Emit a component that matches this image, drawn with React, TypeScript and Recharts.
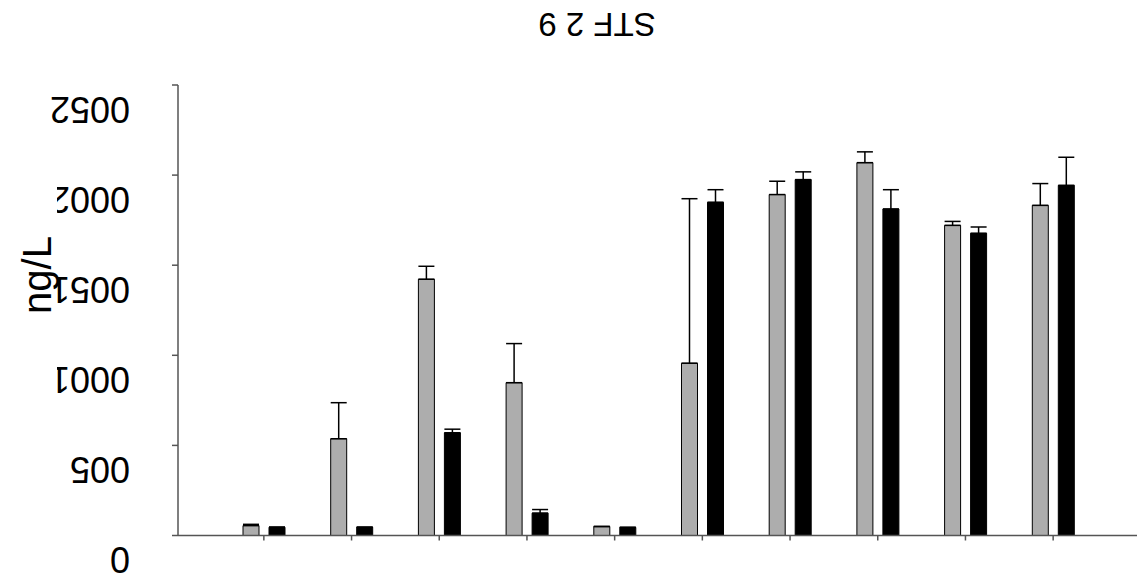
import React from 'react';
import { BarChart, Bar, XAxis, YAxis, ErrorBar } from 'recharts';

const categories = ['1', '2', '3', '4', '5', '6', '7', '8', '9', '10'];
const grayValues = [55, 537, 1422, 848, 50, 956, 1892, 2069, 1721, 1832];
const blackValues = [46, 46, 570, 124, 45, 1849, 1975, 1812, 1677, 1943];
const grayErrors = [7, 200, 72, 217, 0, 913, 74, 60, 22, 121];
const blackErrors = [0, 0, 20, 20, 0, 70, 43, 107, 35, 156];
const yTicks = [0, 500, 1000, 1500, 2000, 2500];
const clippedTicks = [1000, 1500, 2000];
const titleText = 'STF 2 9';
const yLabel = 'ng/L';

const data = categories.map((c, i) => ({
  name: c,
  gray: grayValues[i],
  black: blackValues[i],
  grayErr: [0, grayErrors[i]],
  blackErr: [0, blackErrors[i]],
}));

const FONT = '"Liberation Sans", Arial, sans-serif';
const TICK_FONT = 36;

function YTick(props: any) {
  const { x, y, payload } = props;
  const glyphW = 0.556 * TICK_FONT;
  const ex = x - 40 + glyphW;
  const baseY = y + 11.6;
  const clipped = clippedTicks.includes(payload.value);
  const id = `ytick-clip-${payload.value}`;
  return (
    <g>
      {clipped && (
        <defs>
          <clipPath id={id}>
            <rect x={57} y={y - 10} width={200} height={60} />
          </clipPath>
        </defs>
      )}
      <g clipPath={clipped ? `url(#${id})` : undefined}>
        <text
          x={ex}
          y={baseY}
          textAnchor="end"
          rotate="180"
          fontSize={TICK_FONT}
          fontFamily={FONT}
          fill="#000"
        >
          {payload.value}
        </text>
      </g>
    </g>
  );
}

export default function App() {
  return (
    <div style={{ position: 'absolute', left: 0, top: 0, width: 1137, height: 579, background: '#fff' }}>
      <BarChart
        width={1137}
        height={579}
        data={data}
        margin={{ top: 85, right: 0, left: 0, bottom: 13.5 }}
        barSize={16}
        barGap={10}
      >
        <XAxis
          dataKey="name"
          height={30}
          padding={{ left: 42, right: 40 }}
          tick={() => <g />}
          tickSize={5}
          axisLine={{ stroke: '#555', strokeWidth: 1.5 }}
          tickLine={{ stroke: '#555', strokeWidth: 1.5 }}
        />
        <YAxis
          width={178}
          domain={[0, 2500]}
          ticks={yTicks}
          interval={0}
          tickSize={6}
          tick={<YTick />}
          axisLine={{ stroke: '#555', strokeWidth: 1.5 }}
          tickLine={{ stroke: '#555', strokeWidth: 1.5 }}
        />
        <Bar dataKey="gray" fill="#adadad" stroke="#000" strokeWidth={1} isAnimationActive={false}>
          <ErrorBar dataKey="grayErr" width={8} stroke="#000" strokeWidth={1.5} isAnimationActive={false} />
        </Bar>
        <Bar dataKey="black" fill="#000" stroke="#000" strokeWidth={1} isAnimationActive={false}>
          <ErrorBar dataKey="blackErr" width={8} stroke="#000" strokeWidth={1.5} isAnimationActive={false} />
        </Bar>
      </BarChart>
      <div
        style={{
          position: 'absolute',
          left: 447,
          top: 5,
          width: 300,
          height: 38,
          lineHeight: '38px',
          textAlign: 'center',
          fontSize: 33,
          fontFamily: FONT,
          color: '#000',
          transform: 'rotate(180deg)',
          whiteSpace: 'nowrap',
        }}
      >
        {titleText}
      </div>
      <div
        style={{
          position: 'absolute',
          left: -13,
          top: 253,
          width: 100,
          height: 44,
          lineHeight: '44px',
          textAlign: 'center',
          fontSize: 40,
          fontFamily: FONT,
          color: '#000',
          transform: 'rotate(-90deg)',
          whiteSpace: 'nowrap',
        }}
      >
        {yLabel}
      </div>
    </div>
  );
}
